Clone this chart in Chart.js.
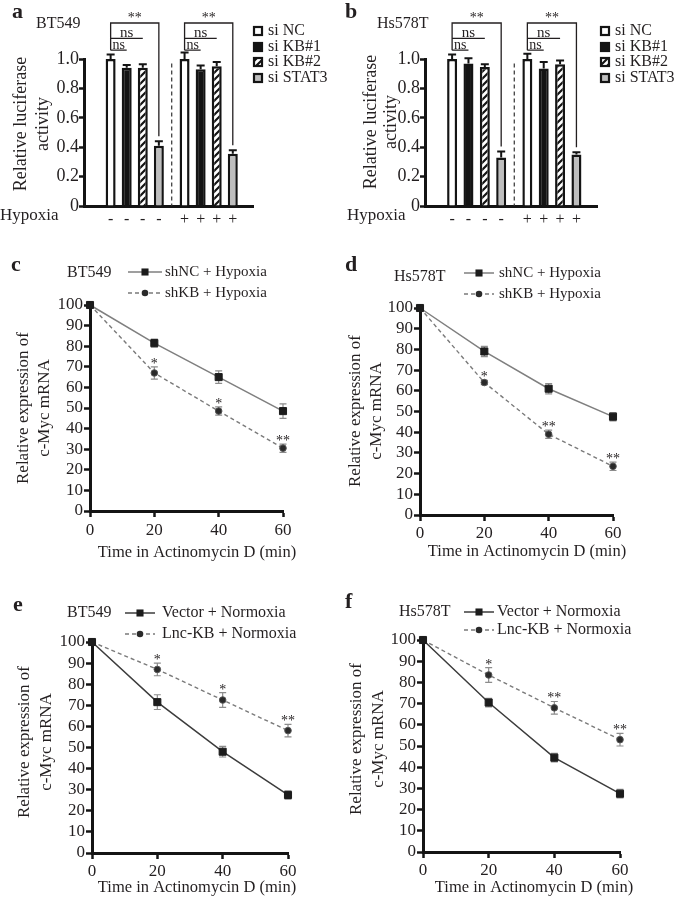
<!DOCTYPE html>
<html lang="en">
<head>
<meta charset="UTF-8" />
<title>Luciferase and c-Myc mRNA stability</title>
<script src="https://cdn.jsdelivr.net/npm/chart.js@4"></script>
<style>
  html, body { margin: 0; padding: 0; background: #fff; }
  #fig { position: relative; width: 674px; height: 897px; }
  #fig canvas { position: absolute; }
</style>
</head>
<body>
<div id="fig">
  <canvas id="pa" width="337" height="240" style="left:0;top:0"></canvas>
  <canvas id="pb" width="337" height="240" style="left:337px;top:0"></canvas>
  <canvas id="pc" width="337" height="335" style="left:0;top:240px"></canvas>
  <canvas id="pd" width="337" height="335" style="left:337px;top:240px"></canvas>
  <canvas id="pe" width="337" height="322" style="left:0;top:575px"></canvas>
  <canvas id="pf" width="337" height="322" style="left:337px;top:575px"></canvas>
</div>
<script>
// ---- data ----
const siRNAs = ['si NC', 'si KB#1', 'si KB#2', 'si STAT3'];
const hypoxiaMarks = ['-', '+'];

const aNormoxia = [1.0, 0.94, 0.94, 0.41];
const aNormoxiaErr = [0.03, 0.02, 0.025, 0.03];
const aHypoxia = [1.0, 0.93, 0.95, 0.355];
const aHypoxiaErr = [0.045, 0.025, 0.03, 0.025];

const bNormoxia = [1.0, 0.97, 0.945, 0.33];
const bNormoxiaErr = [0.03, 0.035, 0.02, 0.04];
const bHypoxia = [1.0, 0.935, 0.965, 0.35];
const bHypoxiaErr = [0.035, 0.045, 0.025, 0.015];

const minutes = [0, 20, 40, 60];
const hypoxiaNames = ['shNC + Hypoxia', 'shKB + Hypoxia'];
const normoxiaNames = ['Vector + Normoxia', 'Lnc-KB + Normoxia'];

const cShNC = [100, 81.5, 65, 48.5];
const cShNCErr = [0, 2, 3, 3.5];
const cShKB = [100, 67, 48.5, 30.5];
const cShKBErr = [0, 3, 2, 2];
const cStars = ['', '*', '*', '**'];

const dShNC = [100, 79, 61, 47.5];
const dShNCErr = [0, 2.5, 2.5, 2];
const dShKB = [100, 64, 39, 23.5];
const dShKBErr = [0, 1, 2, 2];
const dStars = ['', '*', '**', '**'];

const eVector = [100, 71.5, 48, 27.5];
const eVectorErr = [0, 3.5, 2.5, 2];
const eLnc = [100, 87, 72.5, 58];
const eLncErr = [0, 3, 3.5, 3];
const eStars = ['', '*', '*', '**'];

const fVector = [100, 70.5, 44.5, 27.5];
const fVectorErr = [0, 2, 2, 2];
const fLnc = [100, 83.5, 68, 53];
const fLncErr = [0, 3.5, 3, 3];
const fStars = ['', '*', '**', '**'];

// ---- common look ----
const FONT = '"Liberation Serif", "Times New Roman", serif';
const INK = '#231f20';
Chart.defaults.font.family = FONT;
Chart.defaults.color = INK;
Chart.defaults.animation = false;

function text(ctx, s, x, y, size, opts = {}) {
  ctx.font = (opts.bold ? 'bold ' : '') + size + 'px ' + FONT;
  ctx.textAlign = opts.align || 'left';
  ctx.textBaseline = opts.base || 'middle';
  ctx.fillStyle = INK;
  ctx.fillText(s, x, y);
}

function yTitle(ctx, lines, xs, cy, size) {
  lines.forEach((s, i) => {
    ctx.save();
    ctx.translate(xs[i], cy);
    ctx.rotate(-Math.PI / 2);
    text(ctx, s, 0, 0, size, { align: 'center' });
    ctx.restore();
  });
}

function hatchFill() {
  const t = document.createElement('canvas');
  t.width = 7; t.height = 7;
  const g = t.getContext('2d');
  g.fillStyle = '#fff';
  g.fillRect(0, 0, 7, 7);
  g.strokeStyle = '#141414';
  g.lineWidth = 2.2;
  g.beginPath();
  g.moveTo(-1, 8); g.lineTo(8, -1);
  g.moveTo(-4, 4); g.lineTo(4, -4);
  g.moveTo(3, 11); g.lineTo(11, 3);
  g.stroke();
  return g.createPattern(t, 'repeat');
}

// bar slot on the x axis: four bars per group, a gap between groups
function slot(g, k) { return 1 + k + g * 4.6; }

function axisOpts(opts, tickLength) {
  return Object.assign({
    grid: { drawOnChartArea: false, tickLength: tickLength || 6, tickWidth: 2.5, tickColor: '#141414' },
    border: { color: '#141414', width: 3 },
  }, opts);
}

// ---- panels a, b ----
function barPanel(id, L, normoxia, normoxiaErr, hypoxia, hypoxiaErr) {
  const fills = ['#ffffff', '#141414', hatchFill(), '#bebebe'];
  const datasets = siRNAs.map((name, k) => ({
    label: name,
    data: [{ x: slot(0, k), y: normoxia[k] }, { x: slot(1, k), y: hypoxia[k] }],
    err: [normoxiaErr[k], hypoxiaErr[k]],
    backgroundColor: fills[k],
    borderColor: '#141414',
    borderWidth: 2.5,
    grouped: false,
    maxBarThickness: 10,
  }));

  new Chart(document.getElementById(id), {
    type: 'bar',
    data: { datasets },
    options: {
      responsive: false,
      devicePixelRatio: 1,
      layout: { padding: { top: L.top, right: L.right, bottom: 0, left: 0 } },
      plugins: { legend: { display: false }, tooltip: { enabled: false } },
      scales: {
        x: {
          type: 'linear', min: 0, max: 9.2,
          afterBuildTicks: s => {
            s.ticks = [0, 1].flatMap(g => siRNAs.map((_, k) => ({ value: slot(g, k) })));
          },
          afterFit: s => { s.height = L.xh; },
          grid: { display: false },
          border: { color: '#141414', width: 3 },
          ticks: {
            autoSkip: false, maxRotation: 0, padding: -4,
            font: { size: 16 },
            callback: (v, i) => hypoxiaMarks[i < siRNAs.length ? 0 : 1],
          },
        },
        y: axisOpts({
          min: 0, max: 1,
          afterFit: s => { s.width = L.left; },
          ticks: {
            stepSize: 0.2, padding: 0, font: { size: 18 }, autoSkip: false,
            callback: v => (v === 0 ? '0' : v.toFixed(1)),
          },
        }, 5),
      },
    },
    plugins: [{
      id: 'barNotes',
      afterDatasetsDraw(chart) {
        const { ctx } = chart;
        const x = chart.scales.x, y = chart.scales.y;
        ctx.save();
        // error bars
        ctx.strokeStyle = '#141414';
        ctx.lineWidth = 2;
        chart.data.datasets.forEach((ds, di) => {
          chart.getDatasetMeta(di).data.forEach((bar, i) => {
            const top = y.getPixelForValue(ds.data[i].y + ds.err[i]);
            ctx.beginPath();
            ctx.moveTo(bar.x, bar.y); ctx.lineTo(bar.x, top);
            ctx.moveTo(bar.x - 4, top); ctx.lineTo(bar.x + 4, top);
            ctx.stroke();
          });
        });
        // dashed divider between the two groups
        const xd = (x.getPixelForValue(slot(0, 3)) + x.getPixelForValue(slot(1, 0))) / 2;
        ctx.lineWidth = 1.2;
        ctx.strokeStyle = '#333';
        ctx.setLineDash([4, 3]);
        ctx.beginPath();
        ctx.moveTo(xd, y.getPixelForValue(0.97)); ctx.lineTo(xd, y.getPixelForValue(0));
        ctx.stroke();
        ctx.setLineDash([]);
        // significance brackets
        ctx.strokeStyle = INK;
        ctx.lineWidth = 1.3;
        const stat = chart.data.datasets[3];
        [0, 1].forEach(g => {
          const px = k => x.getPixelForValue(slot(g, k));
          const yStar = y.getPixelForValue(1.245);
          const yNs1 = y.getPixelForValue(1.14);
          const yNs2 = y.getPixelForValue(1.06);
          const yEnd = y.getPixelForValue(stat.data[g].y + stat.err[g]) - 5;
          ctx.beginPath();
          ctx.moveTo(px(0), yNs2); ctx.lineTo(px(0), yStar);
          ctx.lineTo(px(3), yStar); ctx.lineTo(px(3), yEnd);
          ctx.moveTo(px(0), yNs1); ctx.lineTo(px(2), yNs1);
          ctx.moveTo(px(0), yNs2); ctx.lineTo(px(1), yNs2);
          ctx.stroke();
          text(ctx, '**', (px(0) + px(3)) / 2, yStar - 1, 14, { align: 'center', base: 'alphabetic' });
          text(ctx, 'ns', (px(0) + px(2)) / 2, yNs1 - 1.5, 15, { align: 'center', base: 'alphabetic' });
          text(ctx, 'ns', (px(0) + px(1)) / 2, yNs2 - 1.5, 14, { align: 'center', base: 'alphabetic' });
        });
        ctx.restore();
      },
      afterDraw(chart) {
        const { ctx } = chart;
        ctx.save();
        text(ctx, L.letter, L.letterAt[0], L.letterAt[1], 22, { bold: true });
        text(ctx, L.cell, L.cellAt[0], L.cellAt[1], 16);
        yTitle(ctx, ['Relative luciferase', 'activity'], L.yTitleX, L.yTitleY, 18);
        text(ctx, 'Hypoxia', L.hypX, 216, 17);
        chart.data.datasets.forEach((ds, k) => {
          const yy = L.legY[k];
          ctx.fillStyle = ds.backgroundColor;
          ctx.fillRect(L.legX, yy - 5, 10, 10);
          ctx.strokeStyle = '#141414';
          ctx.lineWidth = 2.2;
          ctx.strokeRect(L.legX + 1, yy - 4, 8, 8);
          text(ctx, ds.label, L.legX + 15, yy, 16);
        });
        ctx.restore();
      },
    }],
  });
}

// ---- panels c-f ----
function linePanel(id, L, names, solid, solidErr, dashed, dashedErr, stars, solidColor) {
  const datasets = [
    {
      label: names[0],
      data: minutes.map((m, i) => ({ x: m, y: solid[i] })),
      err: solidErr,
      borderColor: solidColor, borderWidth: 1.5,
      pointStyle: 'rect', pointRadius: 5,
      pointBackgroundColor: '#1c1c1c', pointBorderColor: '#1c1c1c', pointBorderWidth: 1,
      clip: false, tension: 0,
    },
    {
      label: names[1],
      data: minutes.map((m, i) => ({ x: m, y: dashed[i] })),
      err: dashedErr,
      borderColor: '#7a7a7a', borderWidth: 1.4, borderDash: [4, 3],
      pointStyle: 'circle', pointRadius: 3.3,
      pointBackgroundColor: '#2a2a2a', pointBorderColor: '#555', pointBorderWidth: 1,
      clip: false, tension: 0,
    },
  ];

  new Chart(document.getElementById(id), {
    type: 'line',
    data: { datasets },
    options: {
      responsive: false,
      devicePixelRatio: 1,
      layout: { padding: { top: L.top, right: L.right, bottom: 0, left: 0 } },
      plugins: { legend: { display: false }, tooltip: { enabled: false } },
      scales: {
        x: axisOpts({
          type: 'linear', min: 0, max: 60,
          afterFit: s => { s.height = L.xh; },
          ticks: { stepSize: 20, padding: L.xPad, font: { size: 17 }, maxRotation: 0, autoSkip: false },
        }),
        y: axisOpts({
          min: 0, max: 100,
          afterFit: s => { s.width = L.left; },
          ticks: { stepSize: 10, padding: 1, font: { size: 17 }, autoSkip: false },
        }),
      },
    },
    plugins: [{
      id: 'lineNotes',
      beforeDatasetsDraw(chart) {
        const { ctx } = chart;
        const y = chart.scales.y;
        ctx.save();
        ctx.strokeStyle = '#8c8c8c';
        ctx.lineWidth = 1.2;
        chart.data.datasets.forEach((ds, di) => {
          chart.getDatasetMeta(di).data.forEach((pt, i) => {
            const e = ds.err[i];
            if (!e) return;
            const v = ds.data[i].y;
            const yt = y.getPixelForValue(v + e), yb = y.getPixelForValue(v - e);
            ctx.beginPath();
            ctx.moveTo(pt.x, yt); ctx.lineTo(pt.x, yb);
            ctx.moveTo(pt.x - 3.5, yt); ctx.lineTo(pt.x + 3.5, yt);
            ctx.moveTo(pt.x - 3.5, yb); ctx.lineTo(pt.x + 3.5, yb);
            ctx.stroke();
          });
        });
        ctx.restore();
      },
      afterDatasetsDraw(chart) {
        const { ctx } = chart;
        const y = chart.scales.y;
        const ds = chart.data.datasets[1];
        ctx.save();
        chart.getDatasetMeta(1).data.forEach((pt, i) => {
          if (!stars[i]) return;
          const top = y.getPixelForValue(ds.data[i].y + ds.err[i]);
          text(ctx, stars[i], pt.x, top + 1, 14, { align: 'center', base: 'alphabetic' });
        });
        ctx.restore();
      },
      afterDraw(chart) {
        const { ctx } = chart;
        ctx.save();
        text(ctx, L.letter, L.letterAt[0], L.letterAt[1], 22, { bold: true });
        text(ctx, L.cell, L.cellAt[0], L.cellAt[1], 16);
        yTitle(ctx, ['Relative expression of', 'c-Myc mRNA'], L.yTitleX, L.yTitleY, 17);
        text(ctx, 'Time in Actinomycin D (min)', L.xTitle[0], L.xTitle[1], 16.5, { align: 'center' });
        chart.data.datasets.forEach((ds, k) => {
          const yy = L.legY[k];
          ctx.strokeStyle = ds.borderColor;
          ctx.lineWidth = ds.borderWidth;
          ctx.setLineDash(ds.borderDash || []);
          ctx.beginPath();
          ctx.moveTo(L.legLine[0], yy); ctx.lineTo(L.legLine[1], yy);
          ctx.stroke();
          ctx.setLineDash([]);
          const xm = (L.legLine[0] + L.legLine[1]) / 2;
          ctx.fillStyle = ds.pointBackgroundColor;
          if (ds.pointStyle === 'rect') {
            const h = ds.pointRadius * Math.SQRT1_2;
            ctx.fillRect(xm - h, yy - h, 2 * h, 2 * h);
          } else {
            ctx.beginPath();
            ctx.arc(xm, yy, ds.pointRadius, 0, Math.PI * 2);
            ctx.fill();
          }
          text(ctx, ds.label, L.legText, yy, L.legSize);
        });
        ctx.restore();
      },
    }],
  });
}

barPanel('pa', {
  top: 59, right: 84, left: 84, xh: 34,
  letter: 'a', letterAt: [12, 12], cell: 'BT549', cellAt: [36, 24],
  yTitleX: [21, 43], yTitleY: 124, hypX: 0,
  legX: 253, legY: [31, 47, 62, 78],
}, aNormoxia, aNormoxiaErr, aHypoxia, aHypoxiaErr);

barPanel('pb', {
  top: 59, right: 77, left: 88, xh: 34,
  letter: 'b', letterAt: [8, 12], cell: 'Hs578T', cellAt: [40, 24],
  yTitleX: [34, 54], yTitleY: 122, hypX: 10,
  legX: 263, legY: [31, 47, 62, 78],
}, bNormoxia, bNormoxiaErr, bHypoxia, bHypoxiaErr);

linePanel('pc', {
  top: 65, right: 54, left: 90, xh: 64, xPad: 3,
  letter: 'c', letterAt: [11, 25], cell: 'BT549', cellAt: [67, 33],
  yTitleX: [24, 45], yTitleY: 168, xTitle: [197, 313],
  legY: [32, 53], legLine: [128, 162], legText: 165, legSize: 15,
}, hypoxiaNames, cShNC, cShNCErr, cShKB, cShKBErr, cStars, '#7f7f7f');

linePanel('pd', {
  top: 68, right: 61, left: 83, xh: 60, xPad: 2,
  letter: 'd', letterAt: [8, 25], cell: 'Hs578T', cellAt: [57, 37],
  yTitleX: [19, 40], yTitleY: 171, xTitle: [190, 312],
  legY: [33, 54], legLine: [127, 157], legText: 162, legSize: 15,
}, hypoxiaNames, dShNC, dShNCErr, dShKB, dShKBErr, dStars, '#7f7f7f');

linePanel('pe', {
  top: 67, right: 49, left: 92, xh: 44, xPad: 2,
  letter: 'e', letterAt: [13, 30], cell: 'BT549', cellAt: [67, 38],
  yTitleX: [25, 47], yTitleY: 167, xTitle: [197, 313],
  legY: [38, 59], legLine: [125, 155], legText: 162, legSize: 16,
}, normoxiaNames, eVector, eVectorErr, eLnc, eLncErr, eStars, '#3c3c3c');

linePanel('pf', {
  top: 65, right: 54, left: 86, xh: 45, xPad: 2,
  letter: 'f', letterAt: [8, 27], cell: 'Hs578T', cellAt: [62, 37],
  yTitleX: [20, 42], yTitleY: 164, xTitle: [197, 313],
  legY: [37, 55], legLine: [127, 157], legText: 160, legSize: 16,
}, normoxiaNames, fVector, fVectorErr, fLnc, fLncErr, fStars, '#3c3c3c');
</script>
</body>
</html>
